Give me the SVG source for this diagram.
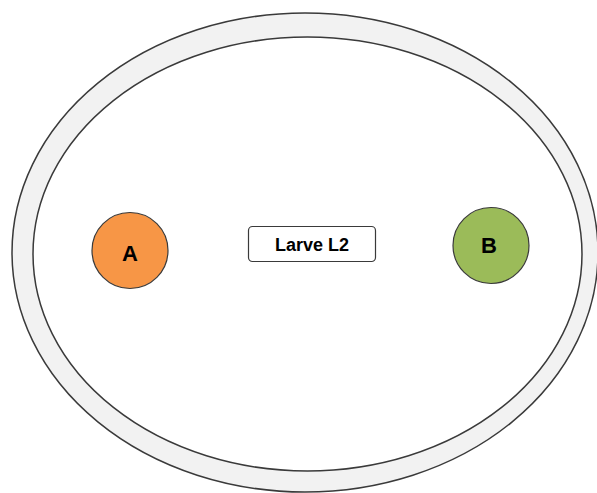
<svg xmlns="http://www.w3.org/2000/svg" width="597" height="493" viewBox="0 0 597 493">
  <style>
    .ring { fill: #f2f2f2; stroke: #3a3a3a; stroke-width: 1.5; }
    .inner { fill: #ffffff; stroke: #3a3a3a; stroke-width: 1.5; }
    .node { stroke: #3a3a3a; stroke-width: 1.2; }
    .label { font-family: "Liberation Sans", Arial, sans-serif; font-weight: bold; fill: #000; text-anchor: middle; }
  </style>
  <rect x="0" y="0" width="597" height="493" fill="#ffffff"/>
  <!-- dish wall -->
  <g id="dish">
    <ellipse class="ring" cx="305" cy="252.5" rx="293" ry="239.5"/>
    <ellipse class="inner" cx="307.5" cy="254" rx="274.5" ry="217"/>
  </g>
  <g id="node-a">
    <circle class="node" cx="130" cy="250.5" r="38" fill="#f79646"/>
    <text class="label" x="130" y="261" font-size="22">A</text>
  </g>
  <g id="node-larve">
    <rect x="248.5" y="226.5" width="127" height="35" rx="4" fill="#ffffff" stroke="#3a3a3a" stroke-width="1.2"/>
    <text class="label" x="312" y="251" font-size="18">Larve L2</text>
  </g>
  <g id="node-b">
    <circle class="node" cx="491" cy="245.5" r="38" fill="#9bbb59"/>
    <text class="label" x="489" y="253" font-size="22">B</text>
  </g>
  <g id="connectors"></g>
</svg>
